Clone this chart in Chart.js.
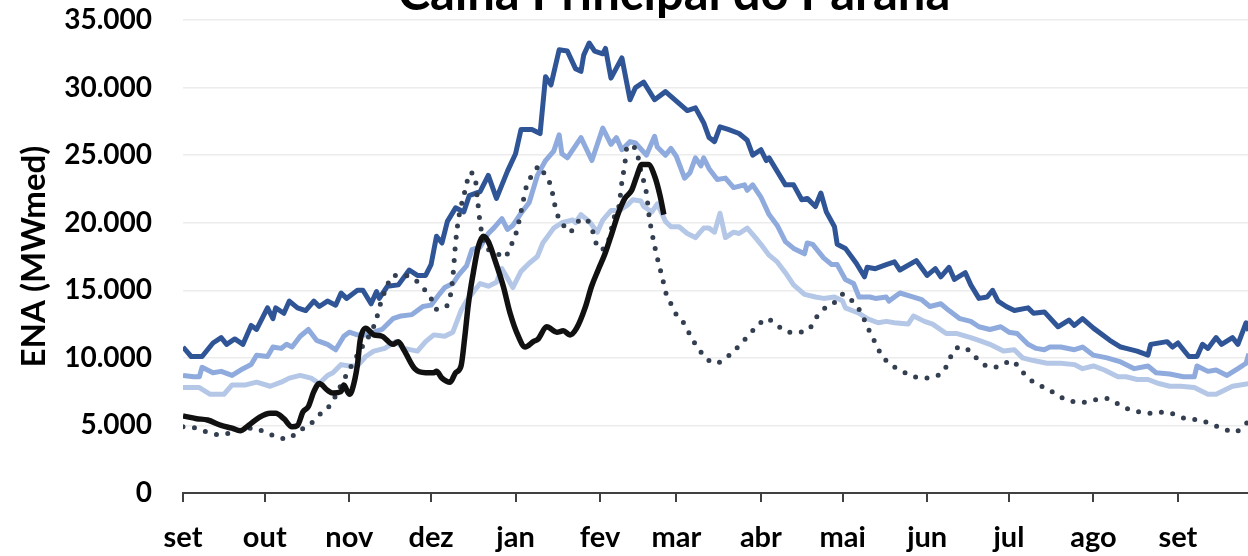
<!DOCTYPE html>
<html lang="pt-BR">
  <head>
    <meta charset="UTF-8" />
    <title>ENA - Calha Principal do Paraná</title>
    <script src="https://cdn.jsdelivr.net/npm/chart.js"></script>
    <style>
      html, body { margin: 0; padding: 0; background: #fff; }
      canvas { display: block; }
    </style>
  </head>
  <body>
    <canvas id="enaChart" width="1248" height="556"></canvas>

    <script>
      const chartTitle = "Calha Principal do Paraná";
      const yAxisTitle = "ENA (MWmed)";

      // x = days counted from 1 Sep
      const monthDays = [0, 30, 61, 91, 122, 153, 181, 212, 242, 273, 303, 334, 365];
      const monthLabels = ["set", "out", "nov", "dez", "jan", "fev", "mar", "abr", "mai", "jun", "jul", "ago", "set"];

      // upper band (dark blue)
      const darkDays = [0, 3, 7, 11, 14, 16, 19, 22, 25, 27, 31, 33, 34, 37, 39, 42, 45, 48, 50, 53, 56, 58, 60, 64, 66, 69, 71, 72, 75, 79, 83, 86, 89, 91, 93, 95, 97, 100, 103, 105, 109, 112, 115, 119, 122, 124, 128, 131, 133, 135, 138, 141, 144, 146, 147, 149, 151, 154, 155, 157, 161, 164, 166, 169, 173, 177, 181, 185, 188, 191, 193, 195, 197, 200, 204, 207, 209, 212, 214, 215, 218, 221, 224, 227, 229, 232, 234, 236, 239, 240, 243, 247, 250, 251, 254, 258, 261, 263, 269, 273, 276, 278, 281, 283, 287, 289, 292, 295, 297, 299, 302, 305, 310, 312, 316, 321, 325, 327, 330, 334, 340, 344, 346, 350, 354, 355, 361, 363, 365, 369, 372, 374, 376, 379, 381, 385, 387, 390, 391];
      const darkVals = [10800, 10100, 10100, 11100, 11500, 11000, 11400, 11000, 12400, 12100, 13700, 12900, 13700, 13300, 14200, 13700, 13500, 14200, 13800, 14200, 13900, 14800, 14400, 15000, 15000, 14000, 14900, 14400, 15300, 15400, 16500, 16100, 16100, 16900, 19000, 18500, 20100, 21100, 20800, 22000, 22300, 23500, 21800, 23800, 25100, 26900, 26900, 26600, 30800, 30200, 32800, 32700, 31400, 31200, 32400, 33300, 32700, 32500, 32900, 30700, 32200, 29100, 30000, 30400, 29100, 29700, 29000, 28300, 28500, 27400, 26300, 26000, 27100, 26900, 26600, 26100, 25000, 25400, 24600, 24800, 23800, 22800, 22800, 21700, 21800, 21200, 22200, 20800, 19700, 18400, 18100, 17000, 16000, 16700, 16600, 16900, 17100, 16500, 17200, 16100, 16600, 16000, 16700, 15800, 16300, 15400, 14400, 14500, 15000, 14200, 13800, 13500, 13700, 13300, 13400, 12300, 12800, 12400, 12900, 12200, 11300, 10800, 10700, 10500, 10200, 11000, 11200, 10800, 11100, 10100, 10100, 11000, 10700, 11500, 11000, 11500, 11000, 12600, 12000];

      // middle band (medium blue)
      const midDays = [0, 4, 6, 7, 11, 14, 18, 22, 25, 27, 31, 33, 36, 38, 40, 43, 46, 49, 53, 56, 59, 61, 64, 67, 70, 73, 77, 80, 84, 88, 91, 94, 96, 99, 101, 104, 106, 109, 112, 114, 117, 119, 121, 124, 127, 130, 133, 136, 138, 139, 141, 146, 150, 154, 157, 159, 161, 164, 166, 170, 173, 174, 177, 179, 181, 184, 186, 188, 190, 191, 193, 196, 199, 202, 206, 207, 209, 212, 215, 218, 221, 224, 228, 229, 231, 235, 238, 240, 243, 246, 248, 252, 254, 258, 259, 263, 268, 271, 274, 278, 281, 285, 289, 292, 296, 300, 303, 306, 310, 313, 316, 318, 322, 327, 330, 334, 339, 344, 349, 354, 357, 362, 367, 371, 372, 376, 379, 383, 387, 390, 391];
      const midVals = [8700, 8600, 8600, 9300, 8900, 9000, 8700, 9200, 9500, 10200, 10100, 10800, 10700, 11000, 10800, 11600, 12100, 11300, 11000, 10600, 11600, 11900, 11700, 11700, 11900, 12100, 12900, 13100, 13200, 13800, 13900, 14700, 15200, 15500, 16100, 16800, 18000, 18200, 19200, 19600, 20300, 19500, 19800, 20700, 21500, 23500, 24600, 25300, 26500, 25100, 24800, 26300, 24600, 27000, 25800, 26300, 25400, 26000, 25900, 25000, 26400, 25600, 25000, 25500, 24900, 23300, 23700, 24800, 24200, 24800, 24000, 23200, 23300, 22600, 22800, 22400, 22800, 21900, 20600, 19800, 18600, 18100, 17700, 18500, 18400, 17400, 16900, 16900, 15800, 15500, 14500, 14500, 14400, 14500, 14200, 14800, 14500, 14300, 13800, 14000, 13500, 12900, 12700, 12300, 12100, 12300, 11900, 11800, 11000, 10700, 10600, 10800, 10800, 10600, 10800, 10200, 10000, 9700, 9200, 9400, 8900, 8800, 8600, 8600, 9400, 9000, 9100, 8700, 9200, 9600, 10300];

      // lower band (light blue)
      const lightDays = [0, 6, 10, 15, 18, 23, 27, 32, 36, 39, 43, 47, 50, 53, 55, 58, 61, 64, 67, 70, 74, 78, 81, 86, 89, 92, 96, 99, 102, 104, 107, 109, 112, 115, 117, 121, 124, 127, 130, 132, 136, 139, 143, 144, 146, 149, 152, 154, 157, 160, 163, 165, 168, 169, 172, 174, 177, 179, 182, 185, 188, 191, 193, 195, 197, 199, 202, 204, 207, 210, 212, 215, 218, 221, 224, 228, 232, 235, 239, 242, 243, 248, 251, 255, 258, 261, 266, 268, 272, 275, 280, 284, 289, 292, 296, 301, 305, 308, 312, 317, 322, 327, 330, 334, 338, 343, 346, 350, 354, 358, 362, 366, 371, 376, 379, 382, 385, 391];
      const lightVals = [7800, 7800, 7300, 7300, 8000, 8000, 8200, 7900, 8200, 8500, 8700, 8500, 8100, 8700, 8900, 9500, 9400, 9400, 10100, 10500, 10700, 11200, 10700, 10500, 11200, 11700, 11600, 11900, 13500, 14200, 15000, 15500, 15300, 15600, 16600, 15200, 16400, 17000, 17500, 18500, 19600, 20000, 20200, 20000, 20600, 20100, 19300, 20200, 20900, 20900, 21300, 21700, 21600, 21200, 20800, 21400, 20100, 19700, 19700, 19200, 18900, 19600, 19600, 19300, 20700, 18900, 19300, 19200, 19600, 18900, 18400, 17600, 17100, 16300, 15400, 14700, 14500, 14400, 14500, 14200, 13700, 13300, 12900, 12600, 12700, 12600, 12500, 13100, 12700, 12500, 11800, 11800, 11500, 11300, 11000, 10500, 10600, 10000, 9800, 9600, 9600, 9500, 9200, 9400, 9100, 8600, 8600, 8400, 8400, 8100, 7900, 7900, 7800, 7300, 7300, 7600, 7900, 8100];

      // dotted reference year
      const dotDays = [0, 5, 9, 14, 18, 22, 26, 30, 34, 38, 42, 45, 49, 51, 54, 58, 62, 66, 69, 71, 72, 75, 77, 81, 85, 88, 91, 93, 97, 98, 99, 100, 101, 102, 104, 105, 107, 108, 109, 111, 114, 118, 120, 122, 124, 126, 128, 131, 133, 135, 136, 137, 139, 142, 144, 147, 150, 151, 153, 156, 157, 158, 160, 161, 162, 163, 166, 167, 168, 170, 171, 172, 174, 175, 176, 177, 179, 181, 184, 186, 188, 191, 195, 198, 202, 205, 208, 211, 214, 218, 222, 226, 230, 232, 235, 239, 242, 245, 248, 250, 252, 254, 256, 259, 263, 267, 271, 275, 279, 281, 283, 286, 290, 293, 297, 300, 304, 307, 310, 314, 318, 322, 326, 330, 335, 339, 343, 347, 351, 356, 360, 364, 368, 373, 377, 381, 386, 389, 391];
      const dotVals = [4900, 4800, 4500, 4300, 4500, 4700, 4800, 4500, 4200, 4000, 4500, 4900, 5500, 6000, 6500, 8000, 9500, 10900, 11900, 12900, 13700, 15400, 16100, 16100, 15800, 15200, 14400, 13600, 13900, 14500, 16000, 18500, 20200, 21200, 22800, 23700, 23500, 21800, 20000, 18200, 17900, 17400, 18200, 19100, 20800, 22700, 23500, 24200, 23400, 22700, 21700, 20800, 20000, 19300, 19900, 20300, 19600, 18800, 18000, 18600, 19400, 20300, 21300, 23000, 24200, 25700, 25500, 24800, 23800, 22200, 20500, 19300, 17400, 16600, 15800, 14900, 14000, 13200, 12500, 11700, 11000, 10200, 9600, 9800, 10500, 11100, 11800, 12400, 12900, 12400, 11900, 11900, 12200, 12900, 13600, 14100, 14700, 14300, 13600, 12800, 11900, 11100, 10300, 9600, 9100, 8700, 8500, 8600, 9000, 9800, 10600, 10800, 10200, 9600, 9300, 9400, 9800, 9200, 8500, 8000, 7600, 7100, 6800, 6700, 6900, 7000, 6600, 6200, 6000, 5900, 6000, 5800, 5500, 5400, 5100, 4800, 4500, 5000, 5300];

      // current year (black, stops in march)
      const blackDays = [0, 5, 9, 14, 18, 21, 24, 28, 32, 34, 37, 40, 42, 44, 46, 48, 50, 53, 55, 58, 59, 61, 62, 64, 65, 67, 70, 73, 77, 79, 81, 85, 89, 92, 93, 95, 98, 100, 102, 103.4, 104.7, 106.5, 108.3, 110.2, 112, 114.5, 117.5, 120, 123, 125.5, 128.5, 130.3, 133.4, 137.1, 139.5, 142, 144.4, 147.5, 149.9, 152.3, 154.8, 157.3, 159.7, 162.1, 164.6, 166.4, 168.3, 170.7, 173.1, 175, 176.4];
      const blackVals = [5700, 5500, 5400, 5000, 4800, 4600, 5000, 5600, 5900, 5900, 5500, 4900, 5000, 6000, 6400, 7500, 8100, 7600, 7400, 7500, 8000, 7300, 7600, 9500, 11300, 12200, 11700, 11600, 11000, 11200, 10600, 9200, 8900, 8900, 9000, 8500, 8200, 8900, 9400, 11600, 14000, 16300, 18200, 19000, 18600, 17200, 15300, 13300, 11600, 10800, 11200, 11400, 12300, 11900, 12000, 11700, 12200, 13700, 15300, 16500, 17700, 19200, 20700, 21800, 22400, 23400, 24300, 24300, 23400, 22000, 20600];

      function toPoints(days, vals) {
        return days.map((d, i) => ({ x: d, y: vals[i] }));
      }

      function fmtThousands(v) {
        return String(v).replace(/\B(?=(\d{3})+(?!\d))/g, ".");
      }

      // title sits partly above the top edge, as in the original export
      const cutTitle = {
        id: "cutTitle",
        afterDraw(chart) {
          const ctx = chart.ctx;
          ctx.save();
          ctx.font = "bold 49px Lato";
          ctx.fillStyle = "#000";
          ctx.textAlign = "center";
          ctx.textBaseline = "alphabetic";
          ctx.fillText(chartTitle, 674, 10);
          ctx.restore();
        },
      };

      Chart.defaults.font.family = "Lato";
      Chart.defaults.font.weight = "bold";
      Chart.defaults.color = "#000";

      const ctx = document.getElementById("enaChart").getContext("2d");
      new Chart(ctx, {
        type: "line",
        data: {
          datasets: [
            {
              label: "atual",
              data: toPoints(blackDays, blackVals),
              borderColor: "#111111",
              borderWidth: 5.5,
              cubicInterpolationMode: "monotone",
              order: 0,
            },
            {
              label: "referência",
              data: toPoints(dotDays, dotVals),
              borderColor: "#333f50",
              borderWidth: 5,
              borderDash: [0, 11.5],
              borderCapStyle: "round",
              cubicInterpolationMode: "monotone",
              order: 1,
            },
            {
              label: "superior",
              data: toPoints(darkDays, darkVals),
              borderColor: "#2f5597",
              borderWidth: 5,
              tension: 0,
              order: 2,
            },
            {
              label: "média",
              data: toPoints(midDays, midVals),
              borderColor: "#8faadc",
              borderWidth: 5,
              tension: 0,
              order: 3,
            },
            {
              label: "inferior",
              data: toPoints(lightDays, lightVals),
              borderColor: "#b4c7e7",
              borderWidth: 5,
              tension: 0,
              order: 4,
            },
          ],
        },
        options: {
          responsive: false,
          animation: false,
          devicePixelRatio: 1,
          elements: { point: { radius: 0 }, line: { borderJoinStyle: "round" } },
          layout: { padding: { top: 20, right: 0, left: 0, bottom: 0 } },
          plugins: { legend: { display: false }, tooltip: { enabled: false } },
          scales: {
            x: {
              type: "linear",
              bounds: "data",
              min: 0,
              max: 390.7,
              afterBuildTicks: (scale) => {
                scale.ticks = monthDays.map((v) => ({ value: v }));
              },
              afterFit: (scale) => {
                scale.height = 63;
              },
              ticks: {
                autoSkip: false,
                maxRotation: 0,
                padding: 18,
                font: { size: 29, weight: "bold" },
                callback: (value, index) => monthLabels[index],
              },
              grid: {
                display: true,
                drawOnChartArea: false,
                drawTicks: true,
                tickLength: 9,
                color: "#404040",
                lineWidth: 2,
              },
              border: { display: true, color: "#404040", width: 2 },
            },
            y: {
              min: 0,
              max: 35000,
              afterFit: (scale) => {
                scale.width = 183;
                // keep the tick padding from pushing the plot down
                scale.paddingTop = 17;
                scale.paddingBottom = 17;
              },
              ticks: {
                stepSize: 5000,
                padding: 31,
                font: { size: 28, weight: "bold" },
                callback: (v) => fmtThousands(v),
              },
              grid: { color: "#ececec", lineWidth: 1.5, drawTicks: false },
              border: { display: false },
              title: {
                display: true,
                text: yAxisTitle,
                font: { size: 33, weight: "bold" },
                padding: { top: 15, bottom: 0 },
              },
            },
          },
        },
        plugins: [cutTitle],
      });
    </script>
  </body>
</html>
